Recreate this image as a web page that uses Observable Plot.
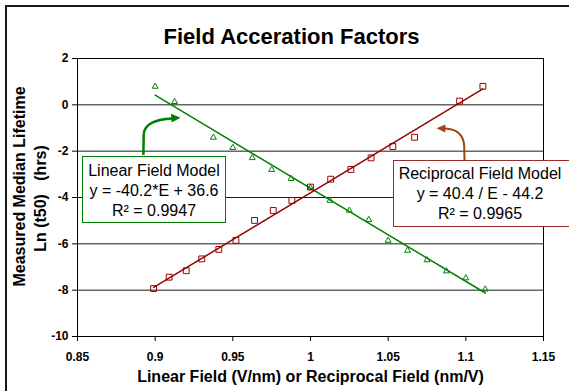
<!DOCTYPE html>
<html>
<head>
<meta charset="utf-8">
<script src="https://cdn.jsdelivr.net/npm/d3@7"></script>
<script src="https://cdn.jsdelivr.net/npm/@observablehq/plot@0.6"></script>
<style>
  html, body { margin: 0; padding: 0; background: #fff; }
  #wrap { position: relative; width: 569px; height: 391px; overflow: hidden; font-family: "Liberation Sans", Arial, sans-serif; }
  #outer { position: absolute; left: 5px; top: 5px; width: 600px; height: 420px; border: 2px solid #1a1a1a; box-sizing: border-box; }
  #chart { position: absolute; left: 0; top: 0; }
  .box { position: absolute; background: #fff; box-sizing: border-box; text-align: center; font-size: 16px; line-height: 20px; color: #000; white-space: nowrap; }
  #arrows { position: absolute; left: 0; top: 0; }
</style>
</head>
<body>
<div id="wrap">
  <div id="outer"></div>
  <div id="chart"></div>
  <div class="box" id="linBox"></div>
  <div class="box" id="recBox"></div>
  <svg id="arrows" width="569" height="391"></svg>
</div>
<script>
// ---- data ----
const linearField      = [0.9, 0.9125, 0.9375, 0.95, 0.9625, 0.975, 0.9875, 1.0, 1.0125, 1.025, 1.0375, 1.05, 1.0625, 1.075, 1.0875, 1.1, 1.1125];
const linearLnT50      = [0.79, 0.13, -1.41, -1.85, -2.29, -2.80, -3.19, -3.58, -4.13, -4.56, -4.96, -5.86, -6.29, -6.70, -7.18, -7.48, -7.96];
const reciprocalField  = [0.899, 0.909, 0.920, 0.930, 0.941, 0.952, 0.964, 0.976, 0.988, 1.0, 1.013, 1.026, 1.039, 1.053, 1.067, 1.096, 1.111];
const reciprocalLnT50  = [-7.93, -7.44, -7.16, -6.65, -6.24, -5.85, -4.99, -4.56, -4.13, -3.55, -3.21, -2.79, -2.29, -1.80, -1.40, 0.16, 0.80];
const linearFitCoef     = [-40.2, 36.6];   // slope, intercept
const reciprocalFitCoef = [40.4, -44.2];   // slope, intercept
const xTicks = [0.85, 0.9, 0.95, 1, 1.05, 1.1, 1.15];
const xTickLabels = ["0.85", "0.9", "0.95", "1", "1.05", "1.1", "1.15"];
const yTicks = [-10, -8, -6, -4, -2, 0, 2];
const yTickLabels = ["-10", "-8", "-6", "-4", "-2", "0", "2"];
const titleText = "Field Acceration Factors";
const xTitle = "Linear Field (V/nm) or Reciprocal Field (nm/V)";
const yTitle1 = "Measured Median Lifetime";
const yTitle2 = "Ln (t50)\u00a0\u00a0\u00a0(hrs)";
const linearBoxLines = ["Linear Field Model", "y = -40.2*E + 36.6", "R\u00b2 = 0.9947"];
const reciprocalBoxLines = ["Reciprocal Field Model", "y = 40.4 / E - 44.2", "R\u00b2 = 0.9965"];

const green = "#008000";
const red = "#990000";
const brown = "#a0430e";

const linPts = linearField.map((x, i) => ({x, y: linearLnT50[i]}));
const recPts = reciprocalField.map((x, i) => ({x, y: reciprocalLnT50[i]}));
const fitLine = (xs, c) => [d3.min(xs), d3.max(xs)].map(x => ({x, y: c[0] * x + c[1]}));
const linFit = fitLine(linearField, linearFitCoef);
const recFit = fitLine(reciprocalField, reciprocalFitCoef);

const W = 569, H = 391;
const plot = Plot.plot({
  width: W, height: H,
  marginLeft: 77, marginRight: 26, marginTop: 58, marginBottom: 55,
  style: {fontFamily: '"Liberation Sans", Arial, sans-serif', fontWeight: "bold", color: "#000", background: "transparent"},
  x: {domain: [0.85, 1.15]},
  y: {domain: [-10, 2]},
  marks: [
    Plot.ruleY(yTicks, {stroke: "#1a1a1a", strokeWidth: 1}),
    Plot.frame({stroke: "#000", strokeWidth: 1}),
    Plot.axisX({ticks: xTicks, tickFormat: (d, i) => xTickLabels[i], tickSize: 5, tickPadding: 11, fontSize: 12, label: null, stroke: "#000"}),
    Plot.axisY({ticks: yTicks, tickFormat: (d, i) => yTickLabels[i], tickSize: 5, tickPadding: 4, fontSize: 12, label: null, stroke: "#000"}),
    Plot.line(linFit, {x: "x", y: "y", stroke: green, strokeWidth: 1.5}),
    Plot.line(recFit, {x: "x", y: "y", stroke: red, strokeWidth: 1.5}),
    Plot.dot(linPts, {x: "x", y: "y", symbol: "triangle", r: 2.2, stroke: green, fill: "none", strokeWidth: 1}),
    Plot.dot(recPts, {x: "x", y: "y", symbol: "square", r: 3.3, stroke: red, fill: "none", strokeWidth: 1}),
    Plot.text([titleText], {frameAnchor: "top", dx: -19, dy: -15, lineAnchor: "bottom", fontSize: 22, fontWeight: "bold"}),
    Plot.text([xTitle], {frameAnchor: "bottom", dy: 45, lineAnchor: "bottom", fontSize: 16, fontWeight: "bold"}),
    Plot.text([yTitle1], {frameAnchor: "left", textAnchor: "middle", dx: -58, dy: -11, rotate: -90, fontSize: 16, fontWeight: "bold"}),
    Plot.text([yTitle2], {frameAnchor: "left", textAnchor: "middle", dx: -37, dy: 1, rotate: -90, fontSize: 16, fontWeight: "bold"})
  ]
});
document.getElementById("chart").appendChild(plot);

// annotation boxes
function fillBox(id, lines, css) {
  const el = document.getElementById(id);
  Object.assign(el.style, css);
  lines.forEach(t => { const d = document.createElement("div"); d.textContent = t; el.appendChild(d); });
}
fillBox("linBox", linearBoxLines, {left: "82px", top: "156px", width: "144px", height: "67px", border: "1px solid " + green, paddingTop: "4px"});
fillBox("recBox", reciprocalBoxLines, {left: "393px", top: "160px", width: "180px", height: "67px", border: "1px solid #9b2a2a", paddingTop: "3px", paddingRight: "6px"});

// callout arrows
const svg = d3.select("#arrows");
svg.append("path").attr("d", "M143.4,155 L143.7,134 C144.5,124 156,119.2 172,118.4")
  .attr("fill", "none").attr("stroke", green).attr("stroke-width", 2.5);
svg.append("path").attr("d", "M180.5,117.8 L171,113.8 L171.6,122.4 Z").attr("fill", green);
svg.append("path").attr("d", "M464.5,160 L464.2,146 C463.4,134 456,129 445,128.6")
  .attr("fill", "none").attr("stroke", brown).attr("stroke-width", 2);
svg.append("path").attr("d", "M436.5,128.3 L445.5,124.6 L445.3,132.4 Z").attr("fill", brown);
</script>
</body>
</html>
